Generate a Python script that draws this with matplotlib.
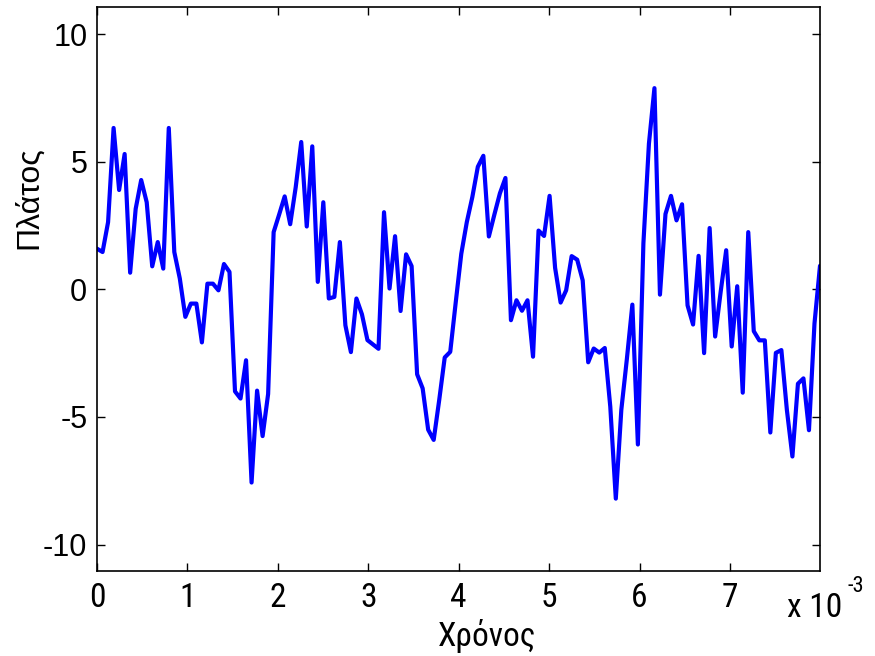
import numpy as np
import matplotlib
matplotlib.use("Agg")
import matplotlib.pyplot as plt

# Sampled signal amplitude
amplitude = [
    1.59, 1.46, 2.63, 6.32, 3.89, 5.30, 0.65, 3.15, 4.28, 3.41,
    0.90, 1.85, 0.81, 6.32, 1.46, 0.42, -1.08, -0.56, -0.56, -2.08,
    0.22, 0.22, -0.04, 0.99, 0.68, -4.00, -4.28, -2.78, -7.57, -3.97,
    -5.75, -4.10, 2.24, 2.93, 3.64, 2.55, 4.00, 5.77, 2.46, 5.60,
    0.29, 3.41, -0.36, -0.30, 1.85, -1.41, -2.46, -0.36, -0.98, -1.99,
    -2.16, -2.33, 3.02, 0.03, 2.08, -0.85, 1.37, 0.91, -3.33, -3.88,
    -5.50, -5.90, -4.34, -2.67, -2.45, -0.50, 1.39, 2.63, 3.61, 4.80,
    5.23, 2.07, 2.93, 3.76, 4.36, -1.21, -0.43, -0.84, -0.43, -2.64,
    2.30, 2.09, 3.66, 0.84, -0.52, -0.04, 1.30, 1.16, 0.35, -2.86,
    -2.32, -2.48, -2.30, -4.60, -8.20, -4.72, -2.74, -0.60, -6.08, 1.80,
    5.70, 7.88, -0.21, 2.95, 3.66, 2.70, 3.33, -0.63, -1.38, 1.31,
    -2.50, 2.40, -1.85, -0.10, 1.53, -2.24, 0.12, -4.05, 2.24, -1.64,
    -2.00, -2.00, -5.61, -2.49, -2.38, -4.73, -6.55, -3.70, -3.49, -5.52,
    -1.34, 0.92,
]
fs = 16384.0  # sampling rate, Hz
t = np.arange(len(amplitude)) / fs

x_ticks = [0, 1, 2, 3, 4, 5, 6, 7]          # in units of 1e-3 s
y_ticks = [-10, -5, 0, 5, 10]

narrow = ["Roboto Condensed", "Liberation Sans", "DejaVu Sans"]
regular = ["Liberation Sans", "DejaVu Sans"]

fig = plt.figure(figsize=(8.75, 6.56), dpi=100)
ax = fig.add_axes([0.1109, 0.1290, 0.8267, 0.8600])

ax.plot(t, amplitude, color=(0, 0, 1), linewidth=3.0,
        solid_joinstyle="round", solid_capstyle="round")

ax.set_xlim(0, 8e-3)
ax.set_ylim(-11.05, 11.05)
ax.set_xticks([v * 1e-3 for v in x_ticks])
ax.set_xticklabels([str(v) for v in x_ticks], family=narrow, fontsize=24)
ax.set_yticks(y_ticks)
ax.set_yticklabels([str(v) for v in y_ticks], family=regular, fontsize=22)

ax.tick_params(direction="in", length=6, width=1, top=True, right=True,
               colors="black")
ax.tick_params(axis="x", pad=8)
ax.tick_params(axis="y", pad=7)
for s in ax.spines.values():
    s.set_linewidth(1.2)

# exponent annotation and axis titles
fig.text(787 / 875, 1 - 608 / 656, "x 10", family=narrow, fontsize=24,
         ha="left", va="center")
fig.text(848 / 875, 1 - 586 / 656, "-3", family=narrow, fontsize=16,
         ha="left", va="center")
fig.text(487 / 875, 1 - 636 / 656, "Χρόνος", family=narrow, fontsize=24,
         ha="center", va="center")
fig.text(29 / 875, 1 - 198 / 656, "Πλάτος", family=regular, fontsize=23,
         ha="center", va="center", rotation=90)

fig.savefig("out.png", dpi=100)
